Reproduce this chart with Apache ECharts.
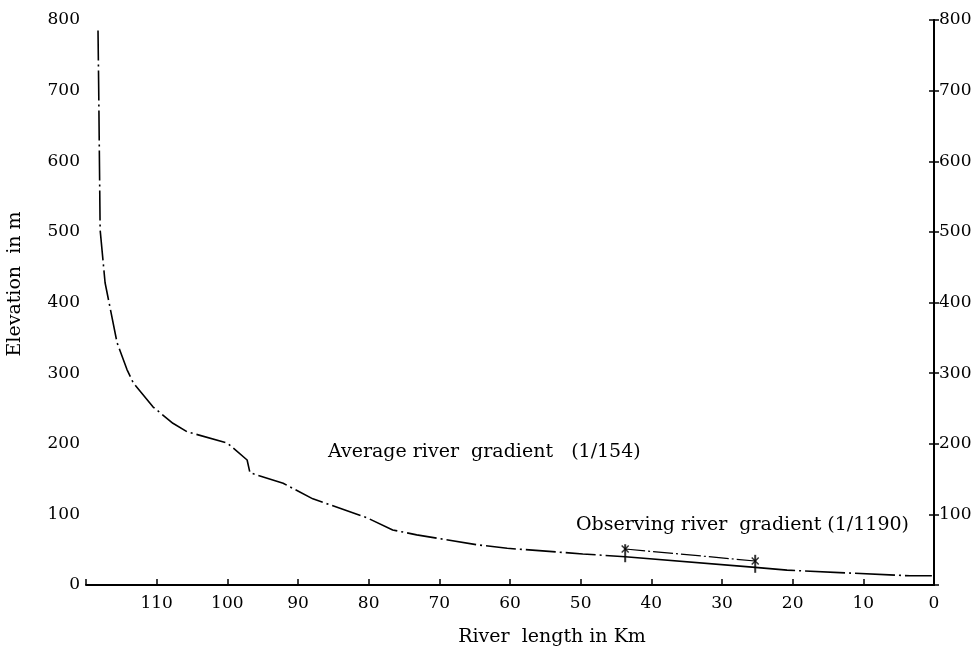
<!DOCTYPE html>
<html>
<head>
<meta charset="utf-8">
<script src="https://cdn.jsdelivr.net/npm/echarts@6/dist/echarts.min.js"></script>
<style>html,body{margin:0;padding:0;background:#fff}#c{width:977px;height:647px}</style>
</head>
<body>
<div id="c"></div>
<script>
// River length (km from mouth) and elevation (m) of the longitudinal profile
var profileKm = [118.3, 118.2, 118.0, 117.3, 115.6, 114.2, 113.3, 110.5, 107.7, 105.7, 100.0, 97.2, 96.8, 92.1, 87.9, 80.2, 76.6, 73.2, 64.7, 60.4, 49.7, 43.7];
var profileElev = [785, 700, 503, 428, 343, 305, 286, 252, 229, 217, 201, 177, 159, 144, 122, 95, 78, 71, 57, 52, 44, 40];
var observedKm = [43.7, 25.3];
var observedElev = [40, 25];
var lowerKm = [25.3, 20.8, 3.4, 0.3];
var lowerElev = [25, 21, 13, 13];
var gradientLineKm = [43.7, 25.3];
var gradientLineElev = [51, 34];
var observedTickElev = [45, 30];
var xTicks = [0, 10, 20, 30, 40, 50, 60, 70, 80, 90, 100, 110, 120];
var yTicks = [0, 100, 200, 300, 400, 500, 600, 700, 800];

function pairs(xs, ys) { return xs.map(function (x, i) { return [x, ys[i]]; }); }

var font = 'DejaVu Serif';
var chart = echarts.init(document.getElementById('c'), null, {renderer: 'canvas'});
var axisLine = {show: true, lineStyle: {color: '#000', width: 2}};
chart.setOption({
  animation: false,
  backgroundColor: '#fff',
  grid: {left: 86, right: 43, top: 20, bottom: 62, containLabel: false},
  xAxis: {
    type: 'value', inverse: true, min: 0, max: 120, interval: 10,
    axisLine: axisLine,
    axisTick: {show: true, inside: true, length: 6, lineStyle: {color: '#000', width: 1.5}},
    splitLine: {show: false},
    axisLabel: {color: '#000', fontFamily: font, fontSize: 17, margin: 10,
      formatter: function (v) { return v === 120 ? '' : String(v); }}
  },
  yAxis: [{
    type: 'value', position: 'left', min: 0, max: 800, interval: 100,
    axisLine: axisLine,
    axisTick: {show: true, inside: true, length: 5, lineStyle: {color: '#000', width: 1.5}},
    splitLine: {show: false},
    axisLabel: {color: '#000', fontFamily: font, fontSize: 17, margin: 6}
  }, {
    type: 'value', position: 'right', min: 0, max: 800, interval: 100,
    axisLine: axisLine,
    axisTick: {show: true, inside: true, length: 5, lineStyle: {color: '#000', width: 1.5}},
    splitLine: {show: false},
    axisLabel: {color: '#000', fontFamily: font, fontSize: 17, margin: 5,
      formatter: function (v) { return v === 0 ? '' : String(v); }}
  }],
  series: [{
    type: 'line', data: pairs(profileKm, profileElev), showSymbol: false, symbol: 'none',
    lineStyle: {color: '#000', width: 1.6, type: [30, 4, 2, 4]}, z: 3
  }, {
    type: 'line', data: pairs(observedKm, observedElev), showSymbol: false, symbol: 'none',
    lineStyle: {color: '#000', width: 1.6}, z: 3
  }, {
    type: 'line', data: pairs(lowerKm, lowerElev), showSymbol: false, symbol: 'none',
    lineStyle: {color: '#000', width: 1.6, type: [40, 4, 2, 4]}, z: 3
  }, {
    type: 'line', data: pairs(gradientLineKm, gradientLineElev), showSymbol: false, symbol: 'none',
    lineStyle: {color: '#000', width: 1.2, type: [20, 3, 2, 3]}, z: 3
  }, {
    type: 'scatter', data: pairs(observedKm, observedTickElev),
    symbol: 'rect', symbolSize: [2, 18], itemStyle: {color: '#000'}, z: 4
  }, {
    type: 'scatter', data: pairs(gradientLineKm, gradientLineElev),
    symbol: 'path://M0,0 L10,10 M10,0 L0,10', symbolSize: 7,
    itemStyle: {color: 'none', borderColor: '#000', borderWidth: 1.5}, z: 4
  }],
  graphic: [
    {type: 'text', x: 328, y: 452, style: {text: 'Average river  gradient   (1/154)', font: '19px "' + font + '"', fill: '#000', verticalAlign: 'middle'}},
    {type: 'text', x: 576, y: 525, style: {text: 'Observing river  gradient (1/1190)', font: '19px "' + font + '"', fill: '#000', verticalAlign: 'middle'}},
    {type: 'text', x: 552, y: 637, style: {text: 'River  length in Km', font: '19px "' + font + '"', fill: '#000', align: 'center', verticalAlign: 'middle'}},
    {type: 'text', x: 15, y: 284, rotation: Math.PI / 2, style: {text: 'Elevation  in m', font: '19px "' + font + '"', fill: '#000', align: 'center', verticalAlign: 'middle'}}
  ]
});
</script>
</body>
</html>
